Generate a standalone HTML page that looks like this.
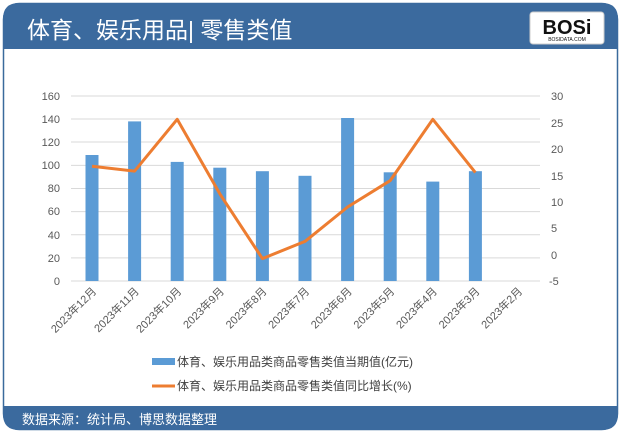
<!DOCTYPE html><html><head><meta charset="utf-8"><style>
body{margin:0;width:621px;height:433px;background:#fff;overflow:hidden;font-family:"Liberation Sans","Noto Sans CJK SC",sans-serif}
</style></head><body>
<svg width="621" height="433" xmlns="http://www.w3.org/2000/svg" style="position:absolute;left:0;top:0">
<rect x="3.5" y="3.5" width="614" height="426" rx="16" fill="#fff" stroke="#3a6a9c" stroke-width="1.5"/>
<path d="M3 49 V19 Q3 3 19 3 H602 Q618 3 618 19 V49 Z" fill="#3b6a9e"/>
<path d="M3 406 H618 V414 Q618 430 602 430 H19 Q3 430 3 414 Z" fill="#3b6a9e"/>
<text x="27" y="38" font-size="23" fill="#fff" font-family="Liberation Sans,Noto Sans CJK SC,sans-serif">体育、娱乐用品| 零售类值</text>
<rect x="530" y="12" width="74" height="32" rx="3" fill="#fff" stroke="#ccc"/>
<text x="567" y="34" font-size="20" font-weight="bold" text-anchor="middle" fill="#111" font-family="Liberation Sans,sans-serif">BOSi</text>
<text x="567" y="41" font-size="5" text-anchor="middle" fill="#111">BOSIDATA.COM</text>
<text x="22" y="424" font-size="13" fill="#fff">数据来源：统计局、博思数据整理</text>
<g stroke="#d9d9d9" stroke-width="1">
<line x1="71" x2="540" y1="96" y2="96"/><line x1="71" x2="540" y1="119" y2="119"/><line x1="71" x2="540" y1="142" y2="142"/><line x1="71" x2="540" y1="165.4" y2="165.4"/><line x1="71" x2="540" y1="188.5" y2="188.5"/><line x1="71" x2="540" y1="211.6" y2="211.6"/><line x1="71" x2="540" y1="234.8" y2="234.8"/><line x1="71" x2="540" y1="257.9" y2="257.9"/><line x1="71" x2="540" y1="281" y2="281"/>
</g>
<g font-size="11" fill="#595959">
<g text-anchor="end"><text x="60" y="100">160</text><text x="60" y="123">140</text><text x="60" y="146">120</text><text x="60" y="169">100</text><text x="60" y="192">80</text><text x="60" y="215">60</text><text x="60" y="239">40</text><text x="60" y="262">20</text><text x="60" y="285">0</text></g>
<text x="551" y="100">30</text><text x="551" y="127">25</text><text x="551" y="153">20</text><text x="551" y="180">15</text><text x="551" y="206">10</text><text x="551" y="232">5</text><text x="551" y="259">0</text><text x="549" y="285">-5</text>
</g>
<g fill="#5b9bd5">
<rect x="85.5" y="155" width="13" height="126"/><rect x="128.1" y="121.4" width="13" height="159.6"/><rect x="170.7" y="161.9" width="13" height="119.1"/><rect x="213.3" y="167.7" width="13" height="113.3"/><rect x="255.9" y="171.2" width="13" height="109.8"/><rect x="298.5" y="175.8" width="13" height="105.2"/><rect x="341.1" y="118" width="13" height="163"/><rect x="383.7" y="172.3" width="13" height="108.7"/><rect x="426.3" y="181.6" width="13" height="99.4"/><rect x="468.9" y="171.2" width="13" height="109.8"/>
</g>
<polyline fill="none" stroke="#ed7d31" stroke-width="3" stroke-linejoin="round" points="92,166.3 134.6,171.1 177.2,119.3 219.8,193.8 262.4,258.6 305,241.4 347.6,207 390.2,180.6 432.8,119.3 475.4,172.6"/>
<g font-size="11" fill="#595959" text-anchor="end">
<text transform="translate(97,292) rotate(-45)">2023年12月</text>
<text transform="translate(139.6,292) rotate(-45)">2023年11月</text>
<text transform="translate(182.2,292) rotate(-45)">2023年10月</text>
<text transform="translate(224.8,292) rotate(-45)">2023年9月</text>
<text transform="translate(267.4,292) rotate(-45)">2023年8月</text>
<text transform="translate(310,292) rotate(-45)">2023年7月</text>
<text transform="translate(352.6,292) rotate(-45)">2023年6月</text>
<text transform="translate(395.2,292) rotate(-45)">2023年5月</text>
<text transform="translate(437.8,292) rotate(-45)">2023年4月</text>
<text transform="translate(480.4,292) rotate(-45)">2023年3月</text>
<text transform="translate(523,292) rotate(-45)">2023年2月</text>
</g>
<rect x="152" y="358" width="23" height="7" fill="#5b9bd5"/>
<text x="177" y="366" font-size="12" fill="#404040">体育、娱乐用品类商品零售类值当期值(亿元)</text>
<line x1="152" x2="175" y1="386" y2="386" stroke="#ed7d31" stroke-width="3"/>
<text x="177" y="390" font-size="12" fill="#404040">体育、娱乐用品类商品零售类值同比增长(%)</text>
</svg>
</body></html>
